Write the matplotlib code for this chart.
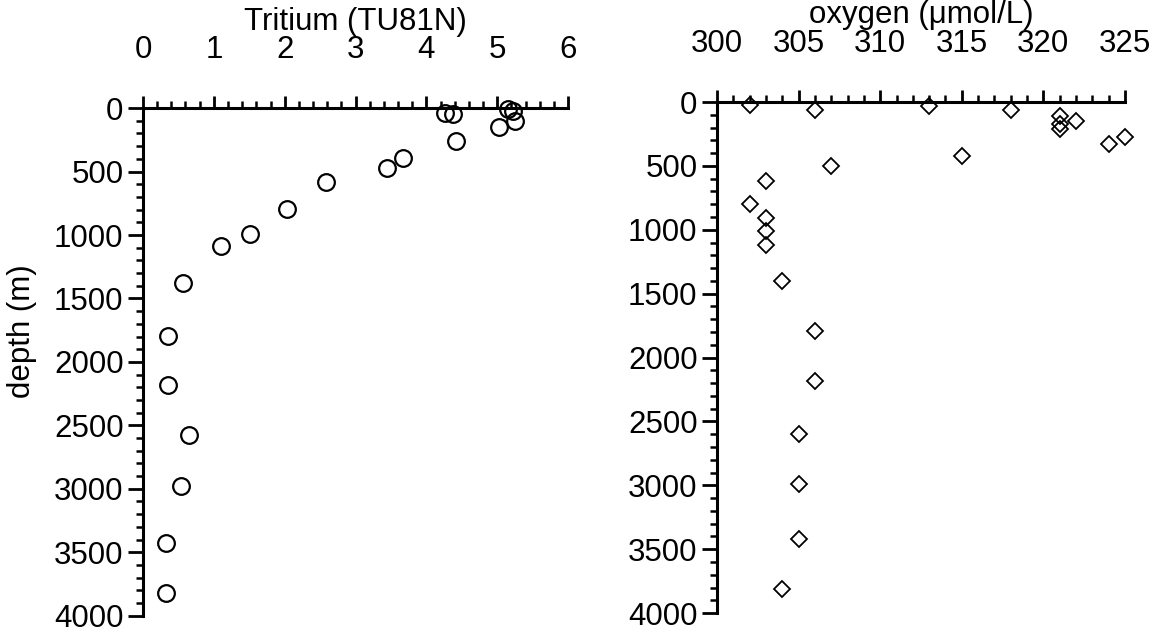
import numpy as np
import matplotlib.pyplot as plt
from matplotlib.ticker import MultipleLocator

## Profildata: tritium og oksygen mot dyp
tritium = [5.15, 5.22, 4.27, 4.38, 5.25, 5.02, 4.42, 3.67, 3.45, 2.59,
           2.03, 1.51, 1.10, 0.56, 0.35, 0.35, 0.65, 0.54, 0.33, 0.33]
tritium_depth = [10, 20, 40, 50, 100, 150, 260, 390, 475, 580,
                 795, 990, 1090, 1380, 1795, 2185, 2580, 2975, 3430, 3820]

oxygen = [302, 306, 313, 318, 321, 321, 321, 322, 325, 324, 315, 307,
          303, 302, 303, 303, 303, 304, 306, 306, 305, 305, 305, 304]
oxygen_depth = [20, 60, 30, 60, 110, 175, 215, 150, 270, 330, 420, 500,
                620, 800, 910, 1010, 1120, 1400, 1790, 2185, 2600, 2990, 3420, 3810]

plt.rcParams['font.family'] = ['Liberation Sans', 'DejaVu Sans']
fs = 22.5

fig = plt.figure(figsize=(11.55, 6.36), dpi=100)

def style_axis(ax, xmin, xmax, xmajor, xminor):
    # Akse oppe og til venstre, dypet øker nedover
    ax.set_xlim(xmin, xmax)
    ax.set_ylim(4000, 0)
    ax.spines['right'].set_visible(False)
    ax.spines['bottom'].set_visible(False)
    ax.spines['top'].set_linewidth(2.2)
    ax.spines['left'].set_linewidth(2.2)
    ax.xaxis.set_ticks_position('top')
    ax.xaxis.set_label_position('top')
    ax.xaxis.set_major_locator(MultipleLocator(xmajor))
    ax.xaxis.set_minor_locator(MultipleLocator(xminor))
    ax.yaxis.set_major_locator(MultipleLocator(500))
    ax.yaxis.set_minor_locator(MultipleLocator(100))
    ax.tick_params(axis='x', which='major', direction='out', length=9, width=2,
                   labelsize=fs, pad=22)
    ax.tick_params(axis='y', which='major', direction='out', length=11, width=2,
                   labelsize=fs, pad=3)
    ax.tick_params(which='minor', direction='out', length=5, width=1.8)
    ax.patch.set_visible(False)

## Venstre: tritium
ax1 = fig.add_axes([0.1238, 0.032, 0.368, 0.798])
style_axis(ax1, 0, 6, 1, 0.2)
ax1.plot(tritium, tritium_depth, 'o', ms=12, mfc='none', mec='black', mew=1.6,
         clip_on=False)
ax1.set_xlabel("Tritium (TU81N)", fontsize=fs, labelpad=4)
ax1.set_ylabel("depth (m)", fontsize=fs)
ax1.yaxis.set_label_coords(-0.25, 0.56)

## Høyre: oksygen
ax2 = fig.add_axes([0.6208, 0.036, 0.3532, 0.8036])
style_axis(ax2, 300, 325, 5, 1)
ax2.plot(oxygen, oxygen_depth, 'D', ms=8.5, mfc='none', mec='black', mew=1.3,
         clip_on=False)
ax2.set_xlabel("oxygen (\u03bcmol/L)", fontsize=fs, labelpad=4)

fig.savefig("out.png", dpi=100)
